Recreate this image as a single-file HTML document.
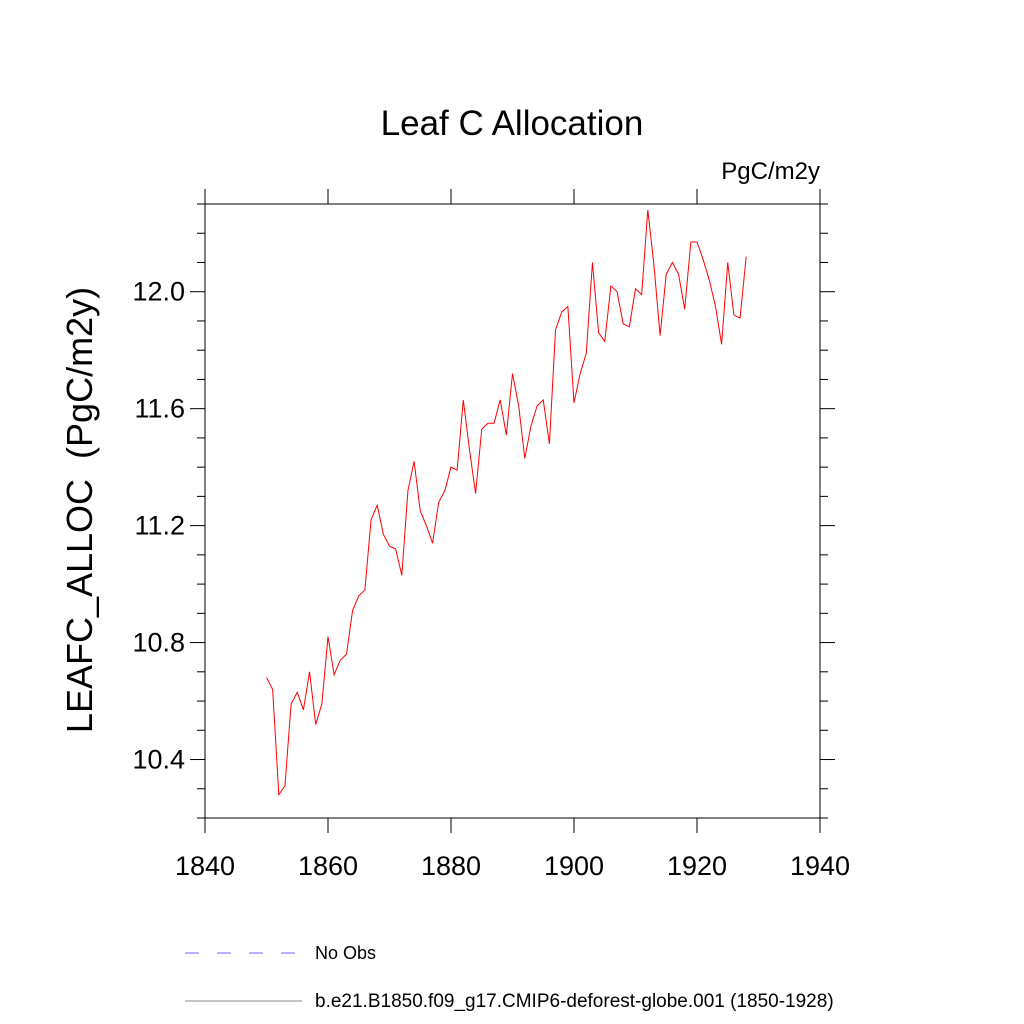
<!DOCTYPE html>
<html><head><meta charset="utf-8"><style>
html,body{margin:0;padding:0;background:#fff}
svg{display:block;font-family:"Liberation Sans",sans-serif}
</style></head><body>
<svg id="chart" width="1024" height="1024" viewBox="0 0 1024 1024">
<text x="512" y="135" text-anchor="middle" font-size="35">Leaf C Allocation</text>
<text x="820" y="179" text-anchor="end" font-size="24">PgC/m2y</text>
<text transform="translate(92,510) rotate(-90)" text-anchor="middle" font-size="36" xml:space="preserve">LEAFC_ALLOC  (PgC/m2y)</text>
<g id="axes"></g>
<g id="series"></g>
<g>
<line x1="185" y1="953" x2="295" y2="953" stroke="#6666ff" stroke-width="1" stroke-dasharray="14,18"/>
<text x="315" y="959" font-size="18">No Obs</text>
<line x1="185" y1="1001" x2="302" y2="1001" stroke="#888" stroke-width="1"/>
<text x="315" y="1007" font-size="19">b.e21.B1850.f09_g17.CMIP6-deforest-globe.001 (1850-1928)</text>
</g>
</svg>
<script>
const years = [1850,1851,1852,1853,1854,1855,1856,1857,1858,1859,1860,1861,1862,1863,1864,1865,1866,1867,1868,1869,1870,1871,1872,1873,1874,1875,1876,1877,1878,1879,1880,1881,1882,1883,1884,1885,1886,1887,1888,1889,1890,1891,1892,1893,1894,1895,1896,1897,1898,1899,1900,1901,1902,1903,1904,1905,1906,1907,1908,1909,1910,1911,1912,1913,1914,1915,1916,1917,1918,1919,1920,1921,1922,1923,1924,1925,1926,1927,1928];
const leafc = [10.68,10.64,10.28,10.31,10.59,10.63,10.57,10.70,10.52,10.59,10.82,10.69,10.74,10.76,10.91,10.96,10.98,11.22,11.27,11.17,11.13,11.12,11.03,11.32,11.42,11.25,11.20,11.14,11.28,11.32,11.40,11.39,11.63,11.46,11.31,11.53,11.55,11.55,11.63,11.51,11.72,11.61,11.43,11.54,11.61,11.63,11.48,11.87,11.93,11.95,11.62,11.72,11.79,12.10,11.86,11.83,12.02,12.00,11.89,11.88,12.01,11.99,12.28,12.09,11.85,12.06,12.10,12.06,11.94,12.17,12.17,12.11,12.04,11.95,11.82,12.10,11.92,11.91,12.12];
const xTicks = [1840,1860,1880,1900,1920,1940];
const yTicks = [10.4,10.8,11.2,11.6,12.0];
const yMinor = [10.2,10.3,10.5,10.6,10.7,10.9,11.0,11.1,11.3,11.4,11.5,11.7,11.8,11.9,12.1,12.2,12.3];
const xMin=1840,xMax=1940,yMin=10.2,yMax=12.3;
const L=205,R=820,T=204,B=818;
const sx=v=>L+(v-xMin)/(xMax-xMin)*(R-L);
const sy=v=>B-(v-yMin)/(yMax-yMin)*(B-T);
const NS='http://www.w3.org/2000/svg';
function mk(tag,attrs,parent){const e=document.createElementNS(NS,tag);for(const k in attrs)e.setAttribute(k,attrs[k]);parent.appendChild(e);return e;}
const ax=document.getElementById('axes');
let frame=mk('rect',{x:L,y:T,width:R-L,height:B-T,fill:'none',stroke:'#000','stroke-width':1},ax);


xTicks.forEach(t=>{
  const x=sx(t);
  let a=mk('line',{x1:x,y1:B,x2:x,y2:B+15,stroke:'#000'},ax);
  
  
  let b=mk('line',{x1:x,y1:T,x2:x,y2:T-15,stroke:'#000'},ax);
  
  
  let tx=mk('text',{x:x,y:875,'text-anchor':'middle','font-size':27},ax);
  tx.textContent=t;
  
  
});
yTicks.forEach(t=>{
  const y=sy(t);
  let a=mk('line',{x1:L,y1:y,x2:L-15,y2:y,stroke:'#000'},ax);
  
  
  let b=mk('line',{x1:R,y1:y,x2:R+15,y2:y,stroke:'#000'},ax);
  
  
  let tx=mk('text',{x:185,y:y+9,'text-anchor':'end','font-size':27},ax);
  tx.textContent=t.toFixed(1);
  
  
});
yMinor.forEach(t=>{
  const y=sy(t);
  let a=mk('line',{x1:L,y1:y,x2:L-8,y2:y,stroke:'#000'},ax);
  
  
  let b=mk('line',{x1:R,y1:y,x2:R+8,y2:y,stroke:'#000'},ax);
  
  
});
const pts=years.map((yr,i)=>sx(yr).toFixed(2)+','+sy(leafc[i]).toFixed(2)).join(' ');
let line=mk('polyline',{points:pts,fill:'none',stroke:'#ff0000','stroke-width':1},document.getElementById('series'));


</script>
</body></html>
